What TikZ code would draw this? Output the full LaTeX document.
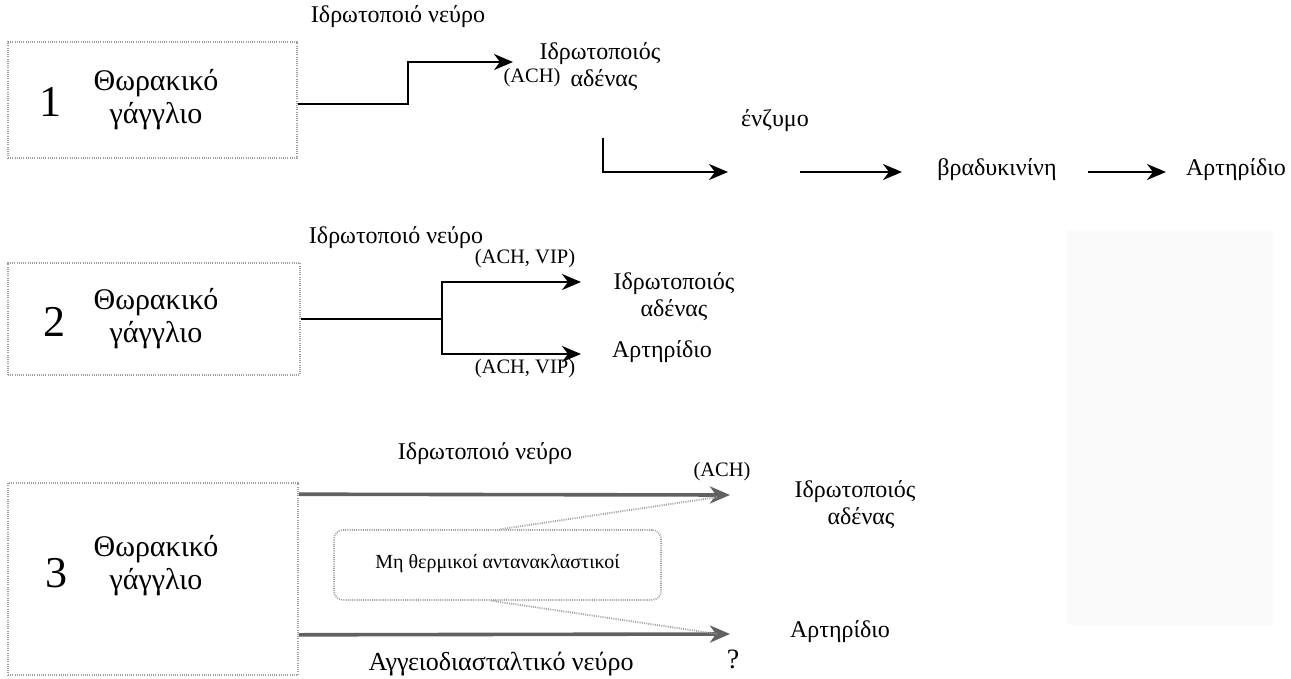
\documentclass[tikz,border=0pt]{standalone}
\usepackage{fontspec}
\setmainfont{Liberation Serif}
\usetikzlibrary{arrows.meta,calc}
\tikzset{
  gbox/.style={draw=gray!75, line width=1.6pt, dash pattern=on 1pt off 1.2pt, inner sep=0pt},
  rbox/.style={gbox, rounded corners=9pt},
  tip/.style={-{Stealth[length=19pt,width=16pt,inset=6pt]}},
  conn/.style={line width=2.4pt, tip},
  plain/.style={line width=2.4pt},
  conng/.style={line width=3.6pt, draw=black!62, -{Stealth[length=20pt,width=17pt,inset=6pt,fill=black!85]}},
  dotl/.style={line width=1.8pt, draw=gray!75, dash pattern=on 1pt off 1.2pt},
  lbl/.style={font=\fontsize{24}{26}\selectfont, inner sep=0pt},
  lat/.style={font=\fontsize{20.5}{22}\selectfont, inner sep=0pt},
  two/.style={font=\fontsize{24}{27}\selectfont, align=center, inner sep=0pt},
  big/.style={font=\fontsize{30}{33}\selectfont, align=center, inner sep=0pt},
  num/.style={font=\fontsize{44}{44}\selectfont, inner sep=0pt}
}
\begin{document}
\begin{tikzpicture}[x=1pt,y=-1pt]
\useasboundingbox (0,0) rectangle (1291,678);
\fill[black!1.5] (1067,230) rectangle (1273,625);

% ---------- panel 1 ----------
\node[gbox, minimum width=289pt, minimum height=116pt] (b1) at (152.5,100) {};
\node[num] (n1) at (50,102) {1};
\node[big] (t1) at (156,100) {Θωρακικό\\γάγγλιο};
\node[lbl] (nv1) at (398,17) {Ιδρωτοποιό νεύρο};
\coordinate (a1) at (513,62);
\draw[conn] ([yshift=-4pt]b1.east) -- (408,104) |- (a1);
\node[lat] (ach1) at (532,78) {(ACH)};
\node[two] (g1) at (604,67) {\hspace*{-8pt}Ιδρωτοποιός\\αδένας};
\coordinate (e1) at (603,138);
\coordinate (e2) at (728,172);
\draw[conn] (e1) |- (e2);
\node[lbl] (enz) at (775,121) {ένζυμο};
\node[lbl] (bk) at (997,170) {βραδυκινίνη};
\node[lbl] (ar1) at (1236,170) {Αρτηρίδιο};
\coordinate (e3) at (800,172);
\coordinate (e4) at (902,172);
\coordinate (e5) at (1088,172);
\coordinate (e6) at (1166,172);
\draw[conn] (e3) -- (e4);
\draw[conn] (e5) -- (e6);

% ---------- panel 2 ----------
\node[gbox, minimum width=292pt, minimum height=112pt] (b2) at (154,319) {};
\node[num] (n2) at (54,322) {2};
\node[big] (t2) at (156,319) {Θωρακικό\\γάγγλιο};
\node[lbl] (nv2) at (396,238) {Ιδρωτοποιό νεύρο};
\coordinate (j2) at (442,319);
\coordinate (a2a) at (581,282);
\coordinate (a2b) at (581,354);
\draw[plain] (b2.east) -- (j2);
\draw[conn] (j2) |- (a2a);
\draw[conn] (j2) |- (a2b);
\node[lat] (ach2a) at (525,259) {(ACH, VIP)};
\node[lat] (ach2b) at (525,369) {(ACH, VIP)};
\node[two] (g2) at (674,297) {Ιδρωτοποιός\\αδένας};
\node[lbl] (ar2) at (662,352) {Αρτηρίδιο};

% ---------- panel 3 ----------
\node[gbox, minimum width=290pt, minimum height=192pt] (b3) at (153,579) {};
\node[num] (n3) at (56,573) {3};
\node[big] (t3) at (156,566) {Θωρακικό\\γάγγλιο};
\node[lbl] (nv3) at (485,454) {Ιδρωτοποιό νεύρο};
\coordinate (a3a) at (730,495);
\coordinate (a3b) at (730,634);
\draw[conng] ([yshift=-12pt]b3.north east) -- (a3a);
\draw[conng] ([yshift=41pt]b3.south east) -- (a3b);
\node[lat] (ach3) at (722,472) {(ACH)};
\node[two] (g3) at (855,505) {Ιδρωτοποιός\\\hspace*{12pt}αδένας};
\node[lbl] (ar3) at (840,632) {Αρτηρίδιο};
\node[lbl, font=\fontsize{28}{30}\selectfont] (q3) at (733,659) {?};
\node[lbl, font=\fontsize{26}{28}\selectfont] (nv3b) at (501,664) {Αγγειοδιασταλτικό νεύρο};
\node[rbox, minimum width=327pt, minimum height=70pt] (mb) at (497.5,565) {};
\node[font=\fontsize{20}{22}\selectfont] (mbt) at (497.5,564) {Μη θερμικοί αντανακλαστικοί};
\draw[dotl] ([xshift=3pt]mb.north) -- (718,497);
\draw[dotl] ([xshift=-6pt]mb.south) -- (718,634);
\end{tikzpicture}
\end{document}
